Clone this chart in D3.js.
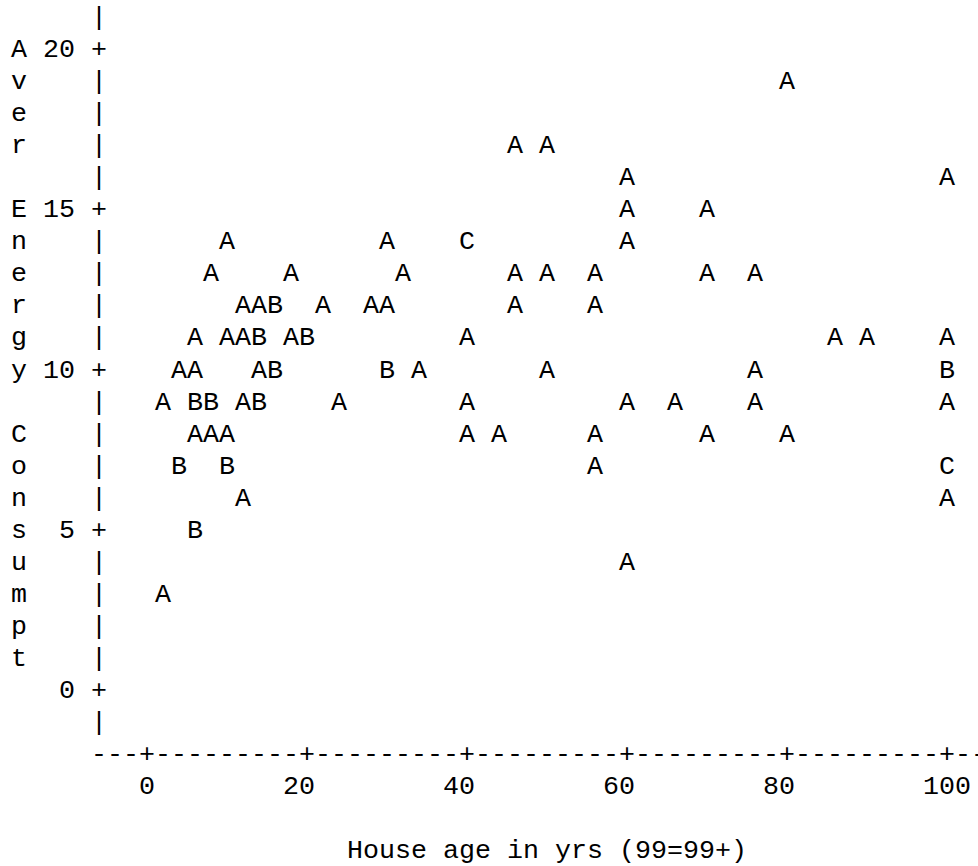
<html>
<script src='https://d3js.org/d3.v7.min.js'></script>
<style>
body {margin: 0; background: white;}
text {font-family: 'Liberation Mono', 'Courier New', monospace; font-size: 26.667px; fill: black;}
</style>
<body onload='init()'>
<svg width=978 height=866>
</svg>
<script>
// plot symbols: A = 1 obs, B = 2 obs, C = 3 obs
var houseAge = [80, 46, 50, 60, 100, 60, 70,
    10, 30, 40, 60,
    8, 18, 32, 46, 50, 56, 70, 76,
    12, 14, 16, 22, 28, 30, 46, 56,
    6, 10, 12, 14, 18, 20, 40, 86, 90, 100,
    4, 6, 14, 16, 30, 34, 50, 76, 100,
    2, 6, 8, 12, 14, 24, 40, 60, 66, 76, 100,
    6, 8, 10, 40, 44, 56, 70, 80,
    4, 10, 56, 100,
    12, 100, 6, 60, 2];
var energyUse = [19, 17, 17, 16, 16, 15, 15,
    14, 14, 14, 14,
    13, 13, 13, 13, 13, 13, 13, 13,
    12, 12, 12, 12, 12, 12, 12, 12,
    11, 11, 11, 11, 11, 11, 11, 11, 11, 11,
    10, 10, 10, 10, 10, 10, 10, 10, 10,
    9, 9, 9, 9, 9, 9, 9, 9, 9, 9, 9,
    8, 8, 8, 8, 8, 8, 8, 8,
    7, 7, 7, 7,
    6, 6, 5, 4, 3];
var plotSymbol = ['A', 'A', 'A', 'A', 'A', 'A', 'A',
    'A', 'A', 'C', 'A',
    'A', 'A', 'A', 'A', 'A', 'A', 'A', 'A',
    'A', 'A', 'B', 'A', 'A', 'A', 'A', 'A',
    'A', 'A', 'A', 'B', 'A', 'B', 'A', 'A', 'A', 'A',
    'A', 'A', 'A', 'B', 'B', 'A', 'A', 'A', 'B',
    'A', 'B', 'B', 'A', 'B', 'A', 'A', 'A', 'A', 'A', 'A',
    'A', 'A', 'A', 'A', 'A', 'A', 'A', 'A',
    'B', 'B', 'A', 'C',
    'A', 'A', 'B', 'A', 'A'];

var xTicks = [0, 20, 40, 60, 80, 100];
var yTicks = [0, 5, 10, 15, 20];
var yTitle = "Aver Energy Consumpt";
var xTitle = "House age in yrs (99=99+)";

function init() {
    var svg = d3.select("svg");

    // one character cell = 2 yrs wide, 1 unit high
    var x = d3.scaleLinear([0, 100], [147, 947]);
    var y = d3.scaleLinear([0, 20], [691, 50]);
    var colW = x(2) - x(0);
    var base = 7;   // baseline below row centre

    // vertical axis  |  and  +
    var rows = d3.range(-1, 22);
    svg.append("g").selectAll("text")
        .data(rows)
        .enter()
        .append("text")
        .attr("x", x(0) - 3 * colW)
        .attr("y", d => y(d) + base)
        .attr("text-anchor", "middle")
        .text(d => (yTicks.indexOf(d) >= 0) ? "+" : "|");

    // y tick labels
    svg.append("g").selectAll("text")
        .data(yTicks)
        .enter()
        .append("text")
        .attr("x", x(0) - 5 * colW + colW / 2)
        .attr("y", d => y(d) + base)
        .attr("text-anchor", "end")
        .text(d => d);

    // y title, one letter per row
    svg.append("g").selectAll("text")
        .data(yTitle.split(""))
        .enter()
        .append("text")
        .attr("x", x(0) - 8 * colW)
        .attr("y", (d, i) => y(20 - i) + base)
        .attr("text-anchor", "middle")
        .text(d => d);

    // horizontal axis  ---+---------+...
    var cols = d3.range(-3, 53);
    svg.append("g").selectAll("text")
        .data(cols)
        .enter()
        .append("text")
        .attr("x", d => x(d * 2))
        .attr("y", y(-2) + base)
        .attr("text-anchor", "middle")
        .text(d => (xTicks.indexOf(d * 2) >= 0) ? "+" : "-");

    // x tick labels
    svg.append("g").selectAll("text")
        .data(xTicks)
        .enter()
        .append("text")
        .attr("x", d => x(d) - Math.floor(String(d).length / 2) * colW - colW / 2)
        .attr("y", y(-3) + base)
        .attr("text-anchor", "start")
        .text(d => d);

    // x title
    svg.append("text")
        .attr("x", x(50))
        .attr("y", y(-5) + base)
        .attr("text-anchor", "middle")
        .text(xTitle);

    // points
    svg.append("g").selectAll("text")
        .data(d3.range(houseAge.length))
        .enter()
        .append("text")
        .attr("x", i => x(houseAge[i]))
        .attr("y", i => y(energyUse[i]) + base)
        .attr("text-anchor", "middle")
        .text(i => plotSymbol[i]);
}
</script>
</body>
</html>
